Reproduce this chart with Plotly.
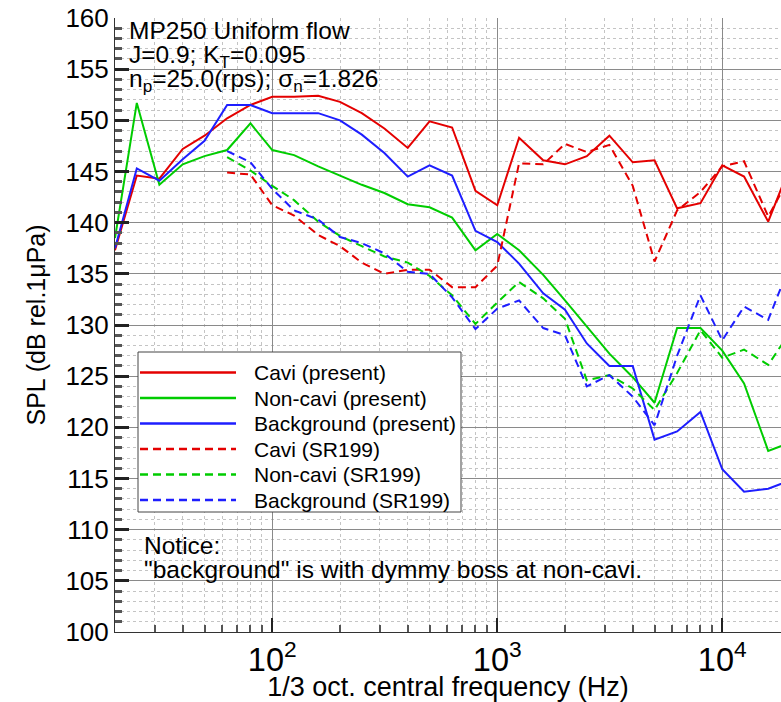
import math
import plotly.graph_objects as go

# ---------------- data ----------------
freq = [20, 25, 31.5, 40, 50, 63, 80, 100, 125, 160, 200, 250, 315, 400, 500, 630,
        800, 1000, 1250, 1600, 2000, 2500, 3150, 4000, 5000, 6300, 8000, 10000,
        12500, 16000, 20000]
freq_sr199 = freq[5:]  # SR199 data start at 63 Hz

cavi_present = [137.3, 144.6, 144.3, 147.2, 148.5, 150.2, 151.5, 152.3, 152.3, 152.4,
                151.8, 150.7, 149.2, 147.3, 149.9, 149.3, 143.1, 141.7, 148.3, 146.1,
                145.7, 146.5, 148.5, 145.9, 146.1, 141.4, 141.9, 145.6, 144.5, 140.1,
                145.5]
noncavi_present = [138.5, 151.7, 143.7, 145.7, 146.5, 147.1, 149.7, 147.1, 146.6, 145.5,
                   144.6, 143.7, 142.9, 141.8, 141.5, 140.5, 137.3, 138.9, 137.3, 134.9,
                   132.4, 129.8, 127.2, 124.9, 122.4, 129.7, 129.7, 127.5, 124.3, 117.7,
                   118.5]
background_present = [137.5, 145.3, 144.1, 146.2, 148.0, 151.5, 151.5, 150.7, 150.7, 150.7,
                      150.0, 148.6, 146.8, 144.5, 145.6, 144.6, 139.2, 138.1, 136.0, 133.1,
                      131.5, 128.2, 126.0, 126.0, 118.8, 119.6, 121.5, 115.9, 113.7, 114.0,
                      114.8]
cavi_sr199 = [144.9, 144.7, 141.7, 140.7, 138.8, 137.7, 136.1, 135.0, 135.4, 135.4,
              133.7, 133.7, 135.8, 145.8, 145.7, 147.7, 146.9, 147.6, 143.6, 136.2,
              141.2, 143.0, 145.5, 146.0, 140.6, 144.5]
noncavi_sr199 = [146.4, 145.1, 143.6, 142.2, 140.1, 138.7, 137.7, 136.7, 136.1, 134.8,
                 132.9, 130.1, 132.2, 134.2, 132.6, 130.6, 124.6, 125.1, 123.8, 121.7,
                 125.3, 129.5, 126.8, 127.6, 126.1, 129.3]
background_sr199 = [147.0, 145.9, 143.3, 141.2, 140.3, 138.6, 138.0, 137.0, 135.2, 135.0,
                    132.7, 129.6, 131.6, 132.4, 129.7, 129.0, 124.0, 125.1, 123.0, 120.2,
                    127.0, 132.9, 128.5, 131.8, 130.5, 135.9]

series_names = ["Cavi (present)", "Non-cavi (present)", "Background (present)",
                "Cavi (SR199)", "Non-cavi (SR199)", "Background (SR199)"]
series_x = [freq, freq, freq, freq_sr199, freq_sr199, freq_sr199]
series_y = [cavi_present, noncavi_present, background_present,
            cavi_sr199, noncavi_sr199, background_sr199]

RED, GREEN, BLUE = "#e40000", "#00cc00", "#1e1eff"
series_colors = [RED, GREEN, BLUE, RED, GREEN, BLUE]
DASH = "8px,5px"
series_dash = ["solid", "solid", "solid", DASH, DASH, DASH]

# ---------------- layout geometry ----------------
W, H = 781, 702
ML, MR, MT, MB = 115, 0, 18, 70
PW, PH = W - ML - MR, H - MT - MB
PX_PER_DECADE = 225.0
x0 = math.log10(20)
xrange_ = [x0, x0 + PW / PX_PER_DECADE]

FONT = "Liberation Sans, Arial, Helvetica, sans-serif"


def px(xp):
    return (xp - ML) / PW


def py(yp):
    return (MT + PH - yp) / PH


fig = go.Figure()
for name, xs, ys, c, d in zip(series_names, series_x, series_y, series_colors, series_dash):
    fig.add_trace(go.Scatter(x=xs, y=ys, mode="lines", name=name,
                             line=dict(color=c, width=2, dash=d),
                             showlegend=False, hoverinfo="skip"))

MAJOR_GRID = "#8a8a8a"
MINOR_GRID = "#c4c4c4"

fig.update_layout(
    width=W, height=H,
    margin=dict(l=ML, r=MR, t=MT, b=MB, pad=0),
    paper_bgcolor="white", plot_bgcolor="white",
    font=dict(family=FONT, color="black"),
    xaxis=dict(
        type="log", range=xrange_, dtick=1, exponentformat="power", showexponent="all",
        tickfont=dict(size=26, family=FONT), ticks="inside", ticklen=14, tickwidth=2,
        tickcolor="#222", showline=True, linecolor="#333", linewidth=1,
        showgrid=True, gridcolor=MAJOR_GRID, gridwidth=1, zeroline=False,
        minor=dict(dtick="D1", ticks="inside", ticklen=7, tickcolor="#555",
                   showgrid=True, gridcolor=MINOR_GRID, griddash="dot", gridwidth=1),
        title=dict(text="1/3 oct. central frequency (Hz)", font=dict(size=27, family=FONT),
                   standoff=0),
    ),
    yaxis=dict(
        range=[100, 160], dtick=5, tick0=100,
        tickfont=dict(size=26, family=FONT), ticks="inside", ticklen=14, tickwidth=3,
        tickcolor="#222", showline=True, linecolor="#333", linewidth=1,
        showgrid=True, gridcolor=MAJOR_GRID, gridwidth=1, zeroline=False,
        minor=dict(dtick=1, ticks="inside", ticklen=7, tickcolor="#555",
                   showgrid=True, gridcolor=MINOR_GRID, griddash="dot", gridwidth=1),
        title=dict(text="SPL (dB rel.1μPa)", font=dict(size=25, family=FONT), standoff=12),
    ),
)

# ---------------- legend (drawn) ----------------
shapes = []
annotations = []
shapes.append(dict(type="rect", xref="paper", yref="paper",
                   x0=px(138), x1=px(461), y0=py(512), y1=py(352),
                   fillcolor="white", line=dict(color="#444", width=1), layer="above"))
row_y = [372.5, 398, 423.5, 449, 474.5, 500]
for name, c, d, ry in zip(series_names, series_colors, series_dash, row_y):
    shapes.append(dict(type="line", xref="paper", yref="paper",
                       x0=px(140), x1=px(236), y0=py(ry), y1=py(ry),
                       line=dict(color=c, width=2.5, dash=d),
                       layer="above"))
    annotations.append(dict(xref="paper", yref="paper", x=px(252), y=py(ry),
                            xanchor="left", yanchor="middle", showarrow=False,
                            text=name, font=dict(size=21, family=FONT, color="black")))

# ---------------- text annotations ----------------
def text_line(txt, xpx, top_px, size):
    annotations.append(dict(xref="paper", yref="paper", x=px(xpx), y=py(top_px),
                            xanchor="left", yanchor="top", showarrow=False,
                            text=txt, font=dict(size=size, family=FONT, color="black")))

TS = 24.5
text_line("MP250 Uniform flow", 127, 15, TS)
text_line("J=0.9; K<sub>T</sub>=0.095", 127, 39, TS)
text_line("n<sub>p</sub>=25.0(rps); σ<sub>n</sub>=1.826", 127, 63, TS)
text_line("Notice:", 142, 530, TS)
text_line("\"background\" is with dymmy boss at non-cavi.", 142, 554, TS)

fig.update_layout(shapes=shapes, annotations=annotations)

fig.write_html("out.html")
